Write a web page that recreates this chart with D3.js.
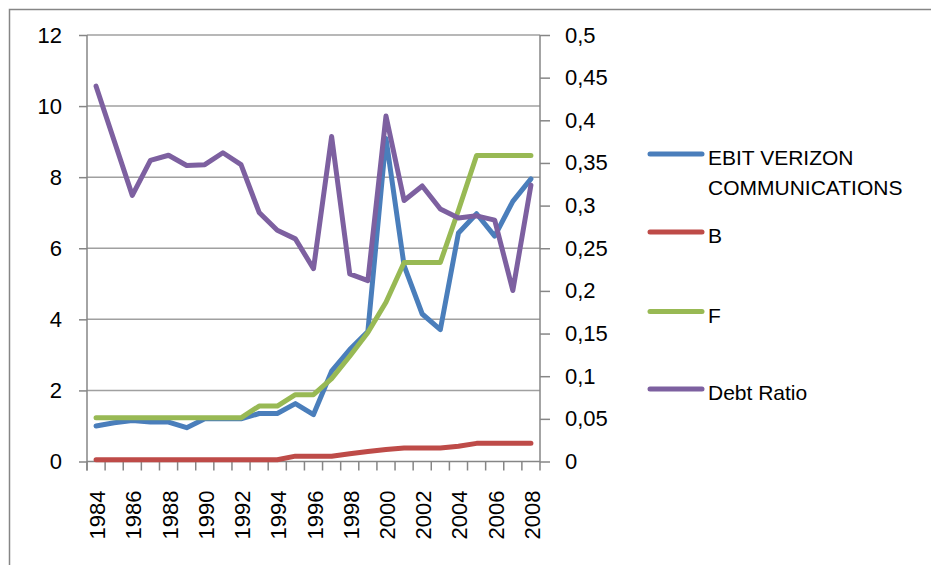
<!DOCTYPE html>
<html>
<head>
<meta charset="utf-8">
<script src="https://cdn.jsdelivr.net/npm/d3@7/dist/d3.min.js"></script>
<style>
  body { margin: 0; background: #fff; }
  svg { display: block; font-family: "Liberation Sans", Arial, sans-serif; }
</style>
</head>
<body>
<svg id="chart" width="931" height="565"></svg>
<script>
// chart data
var years = [1984, 1985, 1986, 1987, 1988, 1989, 1990, 1991, 1992, 1993, 1994, 1995, 1996,
             1997, 1998, 1999, 2000, 2001, 2002, 2003, 2004, 2005, 2006, 2007, 2008];
var ebit = [1.0, 1.09, 1.15, 1.11, 1.11, 0.95, 1.2, 1.2, 1.2, 1.35, 1.35, 1.63, 1.32,
            2.54, 3.15, 3.66, 9.09, 5.51, 4.15, 3.71, 6.43, 6.97, 6.34, 7.32, 7.95];
var bValues = [0.05, 0.05, 0.05, 0.05, 0.05, 0.05, 0.05, 0.05, 0.05, 0.05, 0.05, 0.15, 0.15,
               0.15, 0.22, 0.28, 0.34, 0.38, 0.38, 0.38, 0.43, 0.51, 0.51, 0.51, 0.51];
var fValues = [1.23, 1.23, 1.23, 1.23, 1.23, 1.23, 1.23, 1.23, 1.23, 1.56, 1.56, 1.88, 1.88,
               2.33, 2.96, 3.63, 4.48, 5.6, 5.6, 5.6, 7.07, 8.61, 8.61, 8.61, 8.61];
var debtRatio = [0.44, 0.376, 0.312, 0.353, 0.359, 0.347, 0.348, 0.362, 0.348, 0.292, 0.271, 0.261, 0.226,
                 0.381, 0.22, 0.212, 0.405, 0.306, 0.323, 0.296, 0.2855, 0.288, 0.283, 0.2005, 0.324];
var leftTicks = [0, 2, 4, 6, 8, 10, 12];
var rightTicks = [0, 0.05, 0.1, 0.15, 0.2, 0.25, 0.3, 0.35, 0.4, 0.45, 0.5];
var yearLabels = [1984, 1986, 1988, 1990, 1992, 1994, 1996, 1998, 2000, 2002, 2004, 2006, 2008];
var seriesNames = ["EBIT VERIZON COMMUNICATIONS", "B", "F", "Debt Ratio"];
var seriesColors = ["#4a7ebb", "#be4b48", "#98b954", "#7d60a0"];

(function() {
  var svg = d3.select("#chart");
  var plotLeft = 87, plotRight = 540, plotTop = 35, plotBottom = 461.5;
  var axisColor = "#868686", gridColor = "#a0a0a0";
  var fontSize = "22px";

  // outer chart border (runs off right/bottom like the original)
  svg.append("rect")
      .attr("x", 9.5).attr("y", 9.5)
      .attr("width", 1000).attr("height", 1000)
      .attr("fill", "none")
      .attr("stroke", axisColor)
      .attr("stroke-width", 1.5);

  var x = d3.scaleBand().domain(years).range([plotLeft, plotRight]).padding(0);
  var yL = d3.scaleLinear().domain([0, 12]).range([plotBottom, plotTop]);
  var yR = d3.scaleLinear().domain([0, 0.5]).range([plotBottom, plotTop]);
  var cx = function(d) { return x(d) + x.bandwidth() / 2; };

  // gridlines
  svg.append("g").selectAll("line")
      .data(leftTicks.filter(function(d) { return d > 0; }))
      .enter().append("line")
      .attr("x1", plotLeft).attr("x2", plotRight)
      .attr("y1", function(d) { return yL(d); })
      .attr("y2", function(d) { return yL(d); })
      .attr("stroke", gridColor)
      .attr("stroke-width", 1.5);

  // left axis
  var gL = svg.append("g").attr("transform", "translate(" + plotLeft + ",0)")
      .call(d3.axisLeft(yL).tickValues(leftTicks).tickSize(8).tickPadding(17).tickFormat(d3.format("d")));
  // right axis
  var gR = svg.append("g").attr("transform", "translate(" + plotRight + ",0)")
      .call(d3.axisRight(yR).tickValues(rightTicks).tickSize(10).tickPadding(15)
        .tickFormat(function(d) { return String(+d.toFixed(2)).replace(".", ","); }));

  [gL, gR].forEach(function(g) {
    g.select(".domain").attr("stroke", axisColor).attr("stroke-width", 1.5);
    g.selectAll(".tick line").attr("stroke", axisColor).attr("stroke-width", 1.5);
    g.selectAll(".tick text").attr("fill", "#000").style("font-size", fontSize)
      .style("font-family", "'Liberation Sans', Arial, sans-serif");
  });
  gL.select(".domain").attr("d", "M0," + plotTop + "V" + (plotBottom + 9));
  gR.select(".domain").attr("d", "M0," + plotTop + "V" + plotBottom);

  // bottom axis: ticks at category boundaries
  var bounds = years.map(function(d) { return x(d); }).concat([plotRight]);
  svg.append("line")
      .attr("x1", plotLeft).attr("x2", plotRight)
      .attr("y1", plotBottom).attr("y2", plotBottom)
      .attr("stroke", axisColor).attr("stroke-width", 1.5);
  svg.append("g").selectAll("line")
      .data(bounds)
      .enter().append("line")
      .attr("x1", function(d) { return d; })
      .attr("x2", function(d) { return d; })
      .attr("y1", plotBottom).attr("y2", plotBottom + 9)
      .attr("stroke", axisColor).attr("stroke-width", 1.5);

  // year labels, rotated
  svg.append("g").selectAll("text")
      .data(yearLabels)
      .enter().append("text")
      .attr("transform", function(d) { return "translate(" + (cx(d) + 9) + "," + (plotBottom + 29) + ") rotate(-90)"; })
      .attr("text-anchor", "end")
      .style("font-size", fontSize)
      .text(function(d) { return d; });

  // series lines
  var lineL = d3.line().x(function(d, i) { return cx(years[i]); }).y(function(d) { return yL(d); });
  var lineR = d3.line().x(function(d, i) { return cx(years[i]); }).y(function(d) { return yR(d); });
  var series = [
    { vals: ebit, line: lineL, color: seriesColors[0] },
    { vals: bValues, line: lineL, color: seriesColors[1] },
    { vals: fValues, line: lineL, color: seriesColors[2] },
    { vals: debtRatio, line: lineR, color: seriesColors[3] }
  ];
  svg.append("g").selectAll("path")
      .data(series)
      .enter().append("path")
      .attr("d", function(s) { return s.line(s.vals); })
      .attr("fill", "none")
      .attr("stroke", function(s) { return s.color; })
      .attr("stroke-width", 5)
      .attr("stroke-linejoin", "round")
      .attr("stroke-linecap", "round");

  // legend
  var legendY = [154, 232, 311.5, 389];
  var leg = svg.append("g").selectAll("g")
      .data(seriesNames)
      .enter().append("g")
      .attr("transform", function(d, i) { return "translate(0," + legendY[i] + ")"; });
  leg.append("line")
      .attr("x1", 650).attr("x2", 702)
      .attr("y1", 0).attr("y2", 0)
      .attr("stroke", function(d, i) { return seriesColors[i]; })
      .attr("stroke-width", 5)
      .attr("stroke-linecap", "round");
  leg.append("text")
      .attr("x", 708)
      .attr("y", 11)
      .style("font-size", "21px")
      .each(function(d) {
        var t = d3.select(this);
        if (d.indexOf("COMMUNICATIONS") >= 0) {
          t.append("tspan").attr("x", 708).text("EBIT VERIZON");
          t.append("tspan").attr("x", 708).attr("dy", 30).text("COMMUNICATIONS");
        } else {
          t.text(d);
        }
      });
})();
</script>
</body>
</html>
